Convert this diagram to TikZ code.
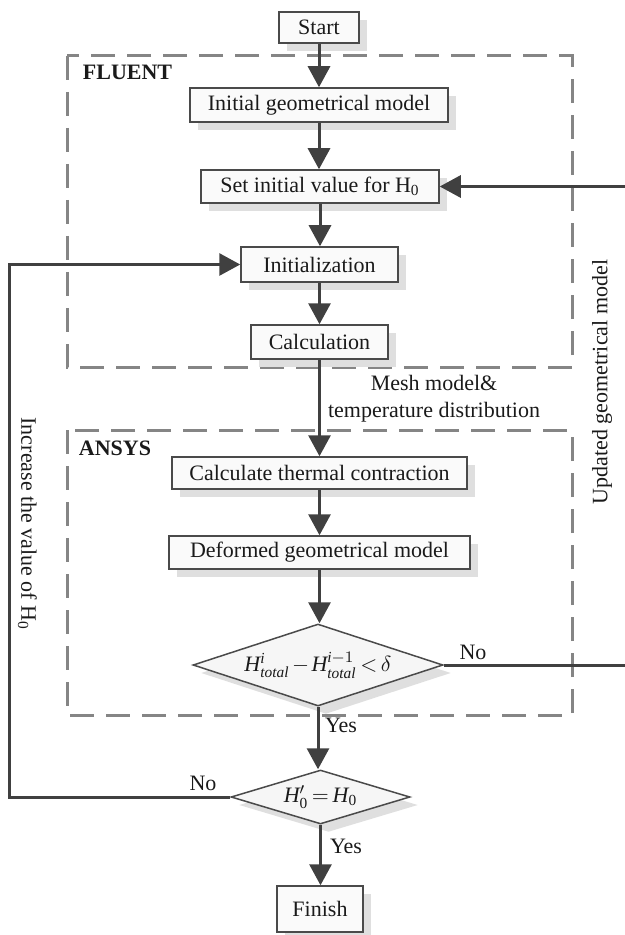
\documentclass[tikz,border=0pt]{standalone}
\usepackage{amsmath}
\usepackage{fontspec}
\setmainfont{Liberation Serif}
\usetikzlibrary{arrows.meta,shapes.geometric,shadows}
\definecolor{ln}{HTML}{404040}
\definecolor{bd}{HTML}{4a4a4a}
\definecolor{dsh}{HTML}{858585}
\definecolor{tx}{HTML}{1a1a1a}
\begin{document}
\begin{tikzpicture}[x=0.5pt,y=-0.5pt,
  font=\fontsize{11}{13}\selectfont, text=tx,
  shad/.style={drop shadow={shadow xshift=4pt,shadow yshift=-4pt,fill=gray!25,opacity=1}},
  box/.style={draw=bd, line width=0.75pt, fill=gray!4, inner sep=0pt, shad},
  dec/.style={diamond, draw=bd, line width=0.75pt, fill=gray!7, inner sep=0pt, aspect=3, shad},
  arr/.style={draw=ln, line width=1.5pt, -{Triangle[length=10.5pt,width=11pt]}},
  grpbox/.style={draw=dsh, line width=1.5pt, dash pattern=on 12pt off 6pt},
  lbl/.style={inner sep=0pt}
]
\useasboundingbox (0,0) rectangle (625,935);

% group boxes
\draw[grpbox] (67,56) rectangle (572,367);
\draw[grpbox] (67,430) rectangle (572,715);
\node[lbl, font=\fontsize{11}{13}\selectfont\bfseries] (fluent) at (127.5,72) {FLUENT};
\node[lbl, font=\fontsize{11}{13}\selectfont\bfseries] (ansys) at (115,448) {ANSYS};

% process nodes
\node[box, minimum width=40pt, minimum height=15.5pt] (start) at (319,27.5) {Start};
\node[box, minimum width=129pt, minimum height=17pt] (geo) at (319,105) {Initial geometrical model};
\node[box, minimum width=119pt, minimum height=16.5pt] (set) at (320,186.5) {Set initial value for H\textsubscript{0}};
\node[box, minimum width=78.5pt, minimum height=17.5pt] (initz) at (319.5,264.5) {Initialization};
\node[box, minimum width=68.5pt, minimum height=17pt] (calc) at (319.5,342) {Calculation};
\node[box, minimum width=147.5pt, minimum height=16pt] (therm) at (319.5,473) {Calculate thermal contraction};
\node[box, minimum width=150.5pt, minimum height=16.5pt] (deform) at (319.5,552.5) {Deformed geometrical model};
\node[dec, minimum width=125pt, minimum height=41pt] (d1) at (318,665)
  {\medmuskip=2mu\thickmuskip=3mu$\textit{H}^{\textit{i}}_{\textit{total}} - \textit{H}^{\textit{i}-1}_{\textit{total}} < \delta$};
\node[dec, minimum width=89.5pt, minimum height=27pt] (d2) at (320.5,797)
  {\thickmuskip=3mu$\textit{H}'_{\text{0}} = \textit{H}_{\text{0}}$};
\node[box, minimum width=43pt, minimum height=23pt] (finish) at (320,909) {Finish};

% main flow
\draw[arr] (start.south) -- (start.south |- geo.north);
\draw[arr] (geo.south) -- (geo.south |- set.north);
\draw[arr] (set.south) -- (set.south |- initz.north);
\draw[arr] (initz.south) -- (initz.south |- calc.north);
\draw[arr] (calc.south) -- (calc.south |- therm.north);
\draw[arr] (therm.south) -- (therm.south |- deform.north);
\draw[arr] (deform.south) -- (deform.south |- d1.north);
\draw[arr] (d1.south) -- (d1.south |- d2.north);
\draw[arr] (d2.south) -- (d2.south |- finish.north);

% loops
\coordinate (rc) at (630,665);
\draw[arr] (d1.east) -- (rc) |- (set.east);
\coordinate (lc) at (9,797);
\draw[arr] (d2.west) -- (lc) |- (initz.west);

% labels
\node[lbl, align=center, font=\fontsize{11}{13.5}\selectfont] (mesh) at (434,398.5) {Mesh model\&\\temperature distribution};
\node[lbl] (no1) at (473,652) {No};
\node[lbl] (yes1) at (341,725) {Yes};
\node[lbl] (no2) at (203,783) {No};
\node[lbl] (yes2) at (346,846) {Yes};
\node[lbl, rotate=-90] (incr) at (27.5,524) {Increase the value of H\textsubscript{0}};
\node[lbl, rotate=90] (upd) at (602,382) {Updated geometrical model};
\end{tikzpicture}
\end{document}
